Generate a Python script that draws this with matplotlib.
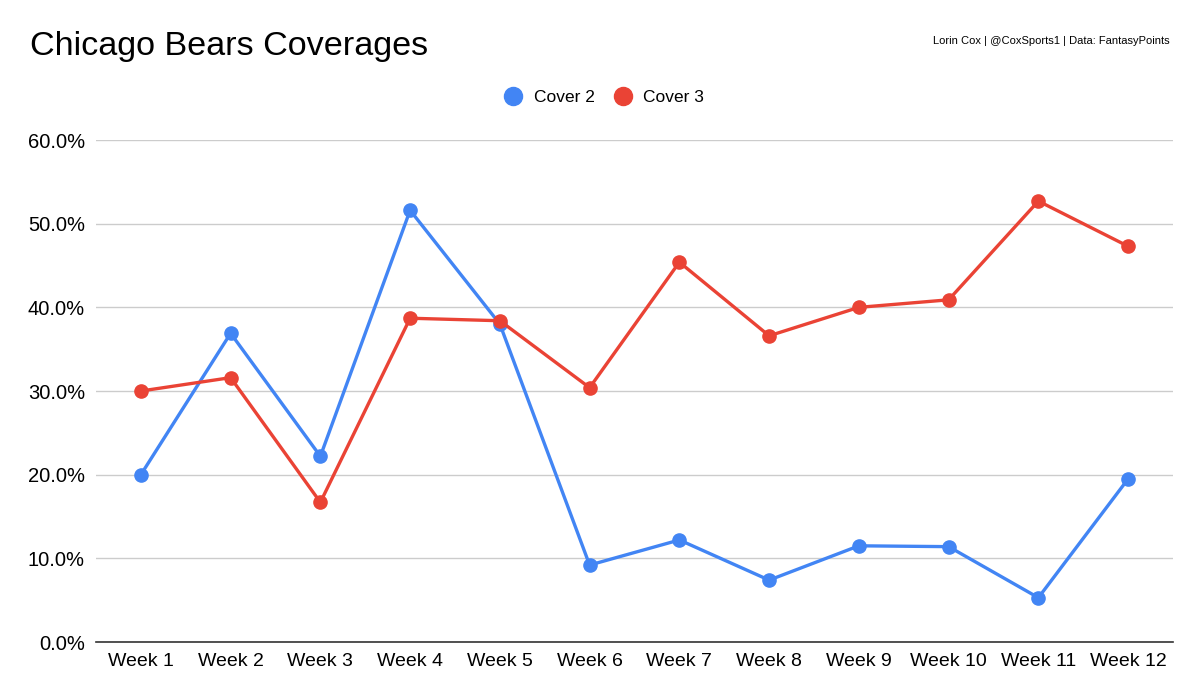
import matplotlib
matplotlib.use("Agg")
import matplotlib.pyplot as plt
from matplotlib.ticker import FuncFormatter
from matplotlib.lines import Line2D

weeks = [f"Week {i}" for i in range(1, 13)]
cover2 = [20.0, 36.9, 22.2, 51.6, 38.0, 9.2, 12.2, 7.4, 11.5, 11.4, 5.3, 19.5]
cover3 = [30.0, 31.6, 16.7, 38.7, 38.4, 30.4, 45.4, 36.6, 40.0, 40.9, 52.7, 47.3]

blue = "#4285F4"
red = "#EA4335"

plt.rcParams['font.family'] = ['Liberation Sans', 'DejaVu Sans']

fig = plt.figure(figsize=(12, 6.99), dpi=100)
ax = fig.add_axes([0.08, 0.0815, 0.8975, 0.7182])

x = list(range(len(weeks)))
ax.plot(x, cover2, color=blue, lw=2.4, marker='o', ms=9.5, zorder=3, label="Cover 2")
ax.plot(x, cover3, color=red, lw=2.4, marker='o', ms=9.5, zorder=3, label="Cover 3")

ax.set_xlim(-0.5, len(weeks) - 0.5)
ax.set_ylim(0, 60)
ax.set_yticks([0, 10, 20, 30, 40, 50, 60])
ax.yaxis.set_major_formatter(FuncFormatter(lambda v, p: f"{v:.1f}%"))
ax.set_xticks(x)
ax.set_xticklabels(weeks)
ax.tick_params(axis='x', length=0, labelsize=14, colors='#000000', pad=8)
ax.tick_params(axis='y', length=0, labelsize=14.5, colors='#000000', pad=8)
ax.grid(axis='y', color='#cccccc', lw=1)
ax.set_axisbelow(True)
for s in ['top', 'right', 'left']:
    ax.spines[s].set_visible(False)
ax.spines['bottom'].set_color('#333333')
ax.spines['bottom'].set_linewidth(1.2)
ax.spines['bottom'].set_zorder(2.5)

fig.text(30 / 1200, 1 - 47 / 699, "Chicago Bears Coverages", fontsize=24.6, va='center', ha='left')
fig.text(1170 / 1200, 1 - 41 / 699, "Lorin Cox | @CoxSports1 | Data: FantasyPoints", fontsize=8, va='center', ha='right')

handles = [Line2D([], [], color=blue, marker='o', ls='none', ms=13),
           Line2D([], [], color=red, marker='o', ls='none', ms=13)]
fig.legend(handles, ["Cover 2", "Cover 3"], loc='center', bbox_to_anchor=(0.5, 1 - 97 / 699),
           ncol=2, frameon=False, fontsize=12.5, handletextpad=0.2, columnspacing=0.6)

fig.savefig("out.png", dpi=100)
